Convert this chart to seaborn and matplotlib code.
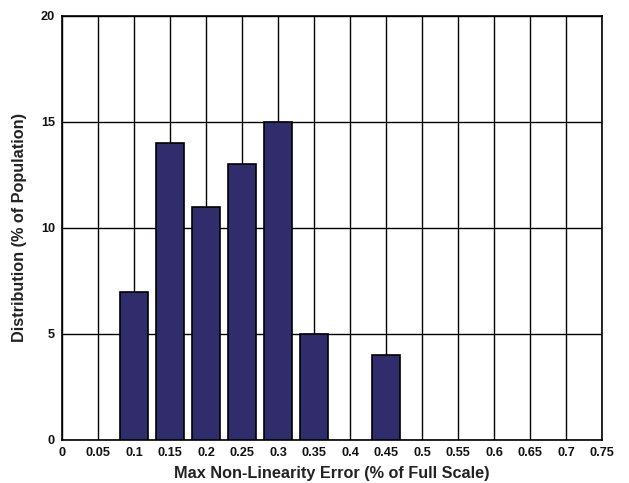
import matplotlib
matplotlib.use('Agg')
import matplotlib.pyplot as plt
import seaborn as sns
import pandas as pd

# error bins (% of full scale) and share of population in each
bins = ['0', '0.05', '0.1', '0.15', '0.2', '0.25', '0.3', '0.35', '0.4',
        '0.45', '0.5', '0.55', '0.6', '0.65', '0.7', '0.75']
bar_bins = ['0.1', '0.15', '0.2', '0.25', '0.3', '0.35', '0.45']
bar_pct = [7, 14, 11, 13, 15, 5, 4]
y_ticks = [0, 5, 10, 15, 20]

sns.set_style('white')
plt.rcParams['font.family'] = ['Liberation Sans', 'DejaVu Sans']
plt.rcParams['font.weight'] = 'bold'

df = pd.DataFrame({'err': bar_bins, 'pct': bar_pct})

fig = plt.figure(figsize=(6.29, 4.83), dpi=100)
ax = fig.add_axes([62/629, 1 - 440/483, 540/629, 424/483])

sns.barplot(data=df, x='err', y='pct', order=bins, color='#312c6c',
            saturation=1, width=0.8, edgecolor='black', linewidth=1.2,
            ax=ax, zorder=3)

ax.set_xlim(0, len(bins) - 1)
ax.set_xticks(range(len(bins)))
ax.set_xticklabels(bins)
ax.set_ylim(0, 20)
ax.set_yticks(y_ticks)
ax.grid(True, color='black', linewidth=1.0, zorder=0)
ax.set_axisbelow(True)
for s in ax.spines.values():
    s.set_color('black')
    s.set_linewidth(1.2)
ax.tick_params(length=0, pad=5, labelsize=9.2, colors='#111111')
for lbl in ax.get_xticklabels() + ax.get_yticklabels():
    lbl.set_fontweight('bold')

ax.set_xlabel('Max Non-Linearity Error (% of Full Scale)', fontsize=11.7,
              fontweight='bold', color='#222222', labelpad=5)
ax.set_ylabel('Distribution (% of Population)', fontsize=11.7,
              fontweight='bold', color='#222222', labelpad=10)

fig.savefig('out.png', dpi=100)
